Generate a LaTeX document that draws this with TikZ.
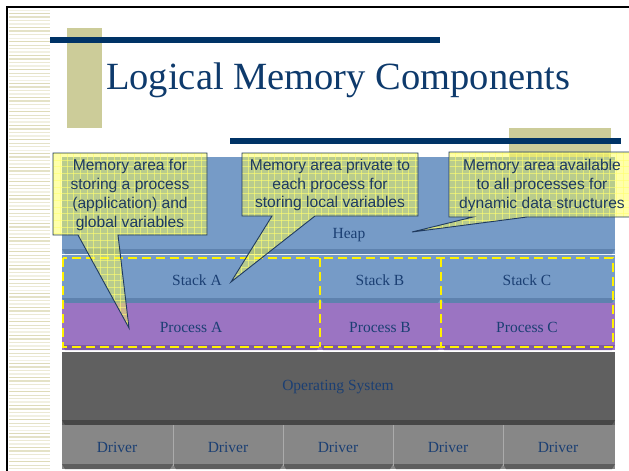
\documentclass[tikz,border=0pt]{standalone}
\usepackage{fontspec}
\setmainfont{Liberation Serif}
\newfontfamily\calloutfont{Liberation Sans}
\definecolor{navybar}{HTML}{003366}
\definecolor{beige}{HTML}{CCCC99}
\definecolor{stripe}{HTML}{D9D6AE}
\definecolor{titlecol}{HTML}{0E3A6C}
\definecolor{labcol}{HTML}{1B3F73}
\definecolor{heapblue}{HTML}{769BC7}
\definecolor{heapband}{HTML}{5E82AE}
\definecolor{procpurple}{HTML}{9B74C2}
\definecolor{procband}{HTML}{7D5AA3}
\definecolor{osgray}{HTML}{606060}
\definecolor{osband}{HTML}{474747}
\definecolor{drvgray}{HTML}{878787}
\definecolor{drvband}{HTML}{5E5E5E}
\definecolor{drvline}{HTML}{ABABAB}
\definecolor{cyellow}{HTML}{FFFF52}
\definecolor{cgridcol}{HTML}{FFFF70}
\definecolor{cedgecol}{HTML}{1F3A60}
\definecolor{ctextcol}{HTML}{1E3A5F}
\newcommand{\mblock}[6]{%
  \fill[#5] (#1,#2) rectangle (#3,#4);
  \fill[#6] (#1,#4-5) -- (#3,#4-5) -- (#3-3,#4) -- (#1+3,#4) -- cycle;}
\begin{document}
\begin{tikzpicture}[x=1pt,y=-1pt,
  blabel/.style={text=labcol,font=\fontsize{15.5}{18}\selectfont,inner sep=0pt},
  ctext/.style={text=ctextcol,font=\calloutfont\fontsize{15.6}{18.7}\selectfont,align=center,inner sep=0pt},
  ydash/.style={draw=yellow,line width=2pt,dash pattern=on 9pt off 5pt},
  cfill/.style={fill=cyellow,fill opacity=0.49},
  cgrid/.style={draw=cgridcol,line width=0.8pt,opacity=0.6},
  cedge/.style={draw=cedgecol,line width=0.9pt,line join=miter}]
\useasboundingbox (0,0) rectangle (629,471);
\fill[white] (0,0) rectangle (629,471);
% left stripes
\foreach \i in {0,...,131}{
  \pgfmathsetmacro\w{0.5+mod(\i*7,5)*0.3}
  \pgfmathsetmacro\op{0.35+mod(\i*3,4)*0.17}
  \draw[stripe,line width=\w pt,opacity=\op] (9,10+3.5*\i) -- (50,10+3.5*\i);
}
% frame
\draw[black,line width=2pt] (7,471) -- (7,7) -- (629,7);
% decorations
\fill[beige] (67,28) rectangle (102,128);
\fill[beige] (509,128) rectangle (611,157);
\fill[navybar] (50,37) rectangle (440,43);
\fill[navybar] (230,138) rectangle (621,144);
\node[anchor=base west,inner sep=0pt,text=titlecol,font=\fontsize{38.5}{44}\selectfont] (title) at (106,89) {Logical Memory Components};
% blocks
\mblock{62}{157}{615}{254}{heapblue}{heapband}
\mblock{62}{255}{320}{303}{heapblue}{heapband}
\mblock{320}{255}{441}{303}{heapblue}{heapband}
\mblock{441}{255}{615}{303}{heapblue}{heapband}
\mblock{62}{303}{320}{350}{procpurple}{procband}
\mblock{320}{303}{441}{350}{procpurple}{procband}
\mblock{441}{303}{615}{350}{procpurple}{procband}
\mblock{62}{352}{615}{425}{osgray}{osband}
\foreach \a/\b in {62/173,173/283,283/393,393/503,503/615}{
  \mblock{\a}{425}{\b}{469}{drvgray}{drvband}
}
\foreach \xx in {173,283,393,503}{
  \draw[drvline,line width=0.8pt] (\xx,425) -- (\xx,466);
}
\node[blabel] (heap) at (349,235) {Heap};
\node[blabel] (stackA) at (197,280) {Stack A};
\node[blabel] (stackB) at (380,280) {Stack B};
\node[blabel] (stackC) at (527,280) {Stack C};
\node[blabel] (procA) at (191,327) {Process A};
\node[blabel] (procB) at (380,327) {Process B};
\node[blabel] (procC) at (527,327) {Process C};
\node[blabel] (os) at (338,387) {Operating System};
\foreach \c [count=\k] in {117,228,338,448,558}{
  \node[blabel] (drv\k) at (\c,447) {Driver};
}
% dashed groups
\draw[ydash] (63,258) rectangle (613,347);
\draw[ydash] (320,258) -- (320,347);
\draw[ydash] (441,258) -- (441,347);
% callouts
\coordinate (tipA) at (129,328);
\coordinate (tipB) at (231,282);
\coordinate (tipC) at (412,232);
\def\cA{(53,153) -- (207,153) -- (207,235) -- (118,235) -- (tipA) -- (78,235) -- (53,235) -- cycle}
\def\cB{(242,153) -- (418,153) -- (418,216) -- (315,216) -- (tipB) -- (272,216) -- (242,216) -- cycle}
\def\cC{(449,152) -- (640,152) -- (640,217) -- (527,217) -- (tipC) -- (473,217) -- (449,217) -- cycle}
\foreach \cp in {\cA,\cB,\cC}{
  \begin{scope}
    \clip \cp;
    \fill[cfill] (0,0) rectangle (640,471);
    \foreach \gx in {0,6.7,...,640}{\draw[cgrid] (\gx,140) -- (\gx,340);}
    \foreach \gy in {140,146.7,...,340}{\draw[cgrid] (40,\gy) -- (640,\gy);}
  \end{scope}
  \draw[cedge] \cp;
}
\node[ctext] (calloutA) at (130,195) {Memory area for\\storing a process\\(application) and\\global variables};
\node[ctext] (calloutB) at (330,185) {Memory area private to\\each process for\\storing local variables};
\node[ctext] (calloutC) at (542,185.5) {Memory area available\\to all processes for\\dynamic data structures};
\end{tikzpicture}
\end{document}
